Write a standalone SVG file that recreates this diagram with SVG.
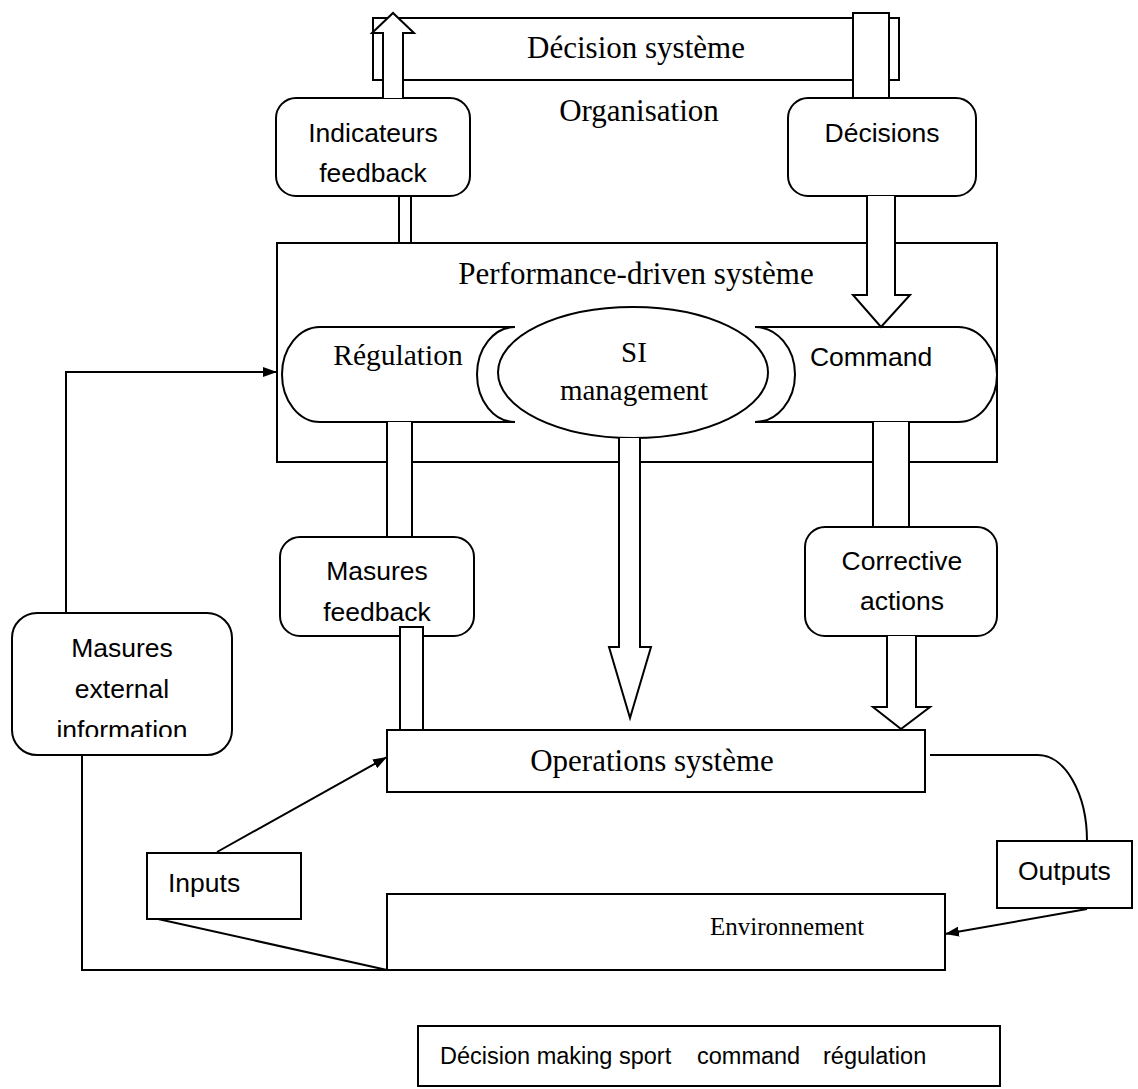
<svg xmlns="http://www.w3.org/2000/svg" width="1138" height="1089" viewBox="0 0 1138 1089">
<style>
.box{fill:#fff;stroke:#000;stroke-width:2}
.blk{fill:#fff;stroke:#000;stroke-width:2;stroke-linejoin:miter}
.ln{fill:none;stroke:#000;stroke-width:2}
.serif{font-family:"Liberation Serif","Times New Roman",serif;font-size:31px;fill:#000}
.sans{font-family:"Liberation Sans",Arial,sans-serif;font-size:26.5px;fill:#000}
</style>
<defs>
<marker id="ah" viewBox="0 0 14 10" refX="14" refY="5" markerWidth="14" markerHeight="10" markerUnits="userSpaceOnUse" orient="auto">
<path d="M0,0 L14,5 L0,10 Z" fill="#000"/>
</marker>
<clipPath id="extclip"><rect x="12" y="613" width="220" height="124"/></clipPath>
</defs>
<rect width="1138" height="1089" fill="#fff"/>

<g id="decision-systeme">
<rect class="box" x="373" y="18" width="526" height="62"/>
<text class="serif" x="636" y="58" text-anchor="middle">Décision système</text>
</g>
<g id="organisation">
<text class="serif" x="639" y="121" text-anchor="middle">Organisation</text>
</g>
<g id="indicateurs-feedback">
<rect class="box" x="276" y="98" width="194" height="98" rx="20"/>
<text class="sans" x="373" y="142" text-anchor="middle">Indicateurs</text>
<text class="sans" x="373" y="182" text-anchor="middle">feedback</text>
</g>
<g id="decisions">
<rect class="box" x="788" y="98" width="188" height="98" rx="20"/>
<text class="sans" x="882" y="142" text-anchor="middle">Décisions</text>
</g>
<g id="performance-driven-systeme">
<rect class="box" x="277" y="243" width="720" height="219"/>
<text class="serif" x="636" y="284" text-anchor="middle">Performance-driven système</text>
</g>
<g id="regulation">
<path class="box" d="M320,327 H515 A38,47.5 0 0 0 515,422 H320 A38,47.5 0 0 1 320,327 Z"/>
<text class="serif" x="398" y="365" text-anchor="middle" style="font-size:29.5px">Régulation</text>
</g>
<g id="si-management">
<ellipse class="box" cx="633" cy="372.5" rx="135" ry="65.5"/>
<text class="serif" x="634" y="362" text-anchor="middle" style="font-size:29px">SI</text>
<text class="serif" x="634" y="400" text-anchor="middle" style="font-size:29px">management</text>
</g>
<g id="command">
<path class="box" d="M755,327 H958 A39,47.5 0 0 1 958,422 H755 A40,47.5 0 0 0 755,327 Z"/>
<text class="sans" x="871" y="366" text-anchor="middle">Command</text>
</g>
<g id="masures-feedback">
<rect class="box" x="280" y="537" width="194" height="99" rx="20"/>
<text class="sans" x="377" y="580" text-anchor="middle">Masures</text>
<text class="sans" x="377" y="621" text-anchor="middle">feedback</text>
</g>
<g id="corrective-actions">
<rect class="box" x="805" y="527" width="192" height="109" rx="20"/>
<text class="sans" x="902" y="570" text-anchor="middle">Corrective</text>
<text class="sans" x="902" y="610" text-anchor="middle">actions</text>
</g>
<g id="masures-external-information">
<rect class="box" x="12" y="613" width="220" height="142" rx="25"/>
<g clip-path="url(#extclip)">
<text class="sans" x="122" y="657" text-anchor="middle">Masures</text>
<text class="sans" x="122" y="698" text-anchor="middle">external</text>
<text class="sans" x="122" y="739" text-anchor="middle">information</text>
</g>
</g>
<g id="operations-systeme">
<rect class="box" x="387" y="730" width="538" height="62"/>
<text class="serif" x="652" y="771" text-anchor="middle">Operations système</text>
</g>
<g id="inputs">
<rect class="box" x="147" y="853" width="154" height="66"/>
<text class="sans" x="168" y="892">Inputs</text>
</g>
<g id="environnement">
<rect class="box" x="387" y="894" width="558" height="76"/>
<text class="serif" x="710" y="935" style="font-size:25px">Environnement</text>
</g>
<g id="outputs">
<rect class="box" x="997" y="841" width="135" height="67"/>
<text class="sans" x="1018" y="880">Outputs</text>
</g>
<g id="legend">
<rect class="box" x="418" y="1026" width="582" height="60"/>
<text class="sans" x="440" y="1064" style="font-size:23.5px">Décision making sport</text>
<text class="sans" x="697" y="1064" style="font-size:23.5px">command</text>
<text class="sans" x="823" y="1064" style="font-size:23.5px">régulation</text>
</g>

<g id="connectors">
<path class="blk" d="M383,98 V33 H372 L393,13 L414,33 H403 V98"/>
<rect class="blk" x="853" y="13" width="36" height="85"/>
<rect class="blk" x="399" y="196" width="12" height="47"/>
<path class="blk" d="M867,196 V295 H853 L881,327 L910,295 H895 V196"/>
<path class="blk" d="M387,422 V537 H412 V422"/>
<path class="blk" d="M619,438 V647 H609 L630,718 L651,647 H640 V438"/>
<path class="blk" d="M873,422 V527 H909 V422"/>
<rect class="blk" x="400" y="627" width="23" height="103"/>
<path class="blk" d="M887,636 V707 H873 L901,729 L930,707 H916 V636"/>
<polyline class="ln" points="66,613 66,372 277,372" marker-end="url(#ah)"/>
<line class="ln" x1="217" y1="852" x2="387" y2="757" marker-end="url(#ah)"/>
<path class="ln" d="M930,755 H1038 A49,86 0 0 1 1087,841"/>
<line class="ln" x1="1087" y1="909" x2="945" y2="934" marker-end="url(#ah)"/>
<line class="ln" x1="158" y1="919" x2="387" y2="970"/>
<polyline class="ln" points="82,755 82,970 387,970"/>
</g>
</svg>
